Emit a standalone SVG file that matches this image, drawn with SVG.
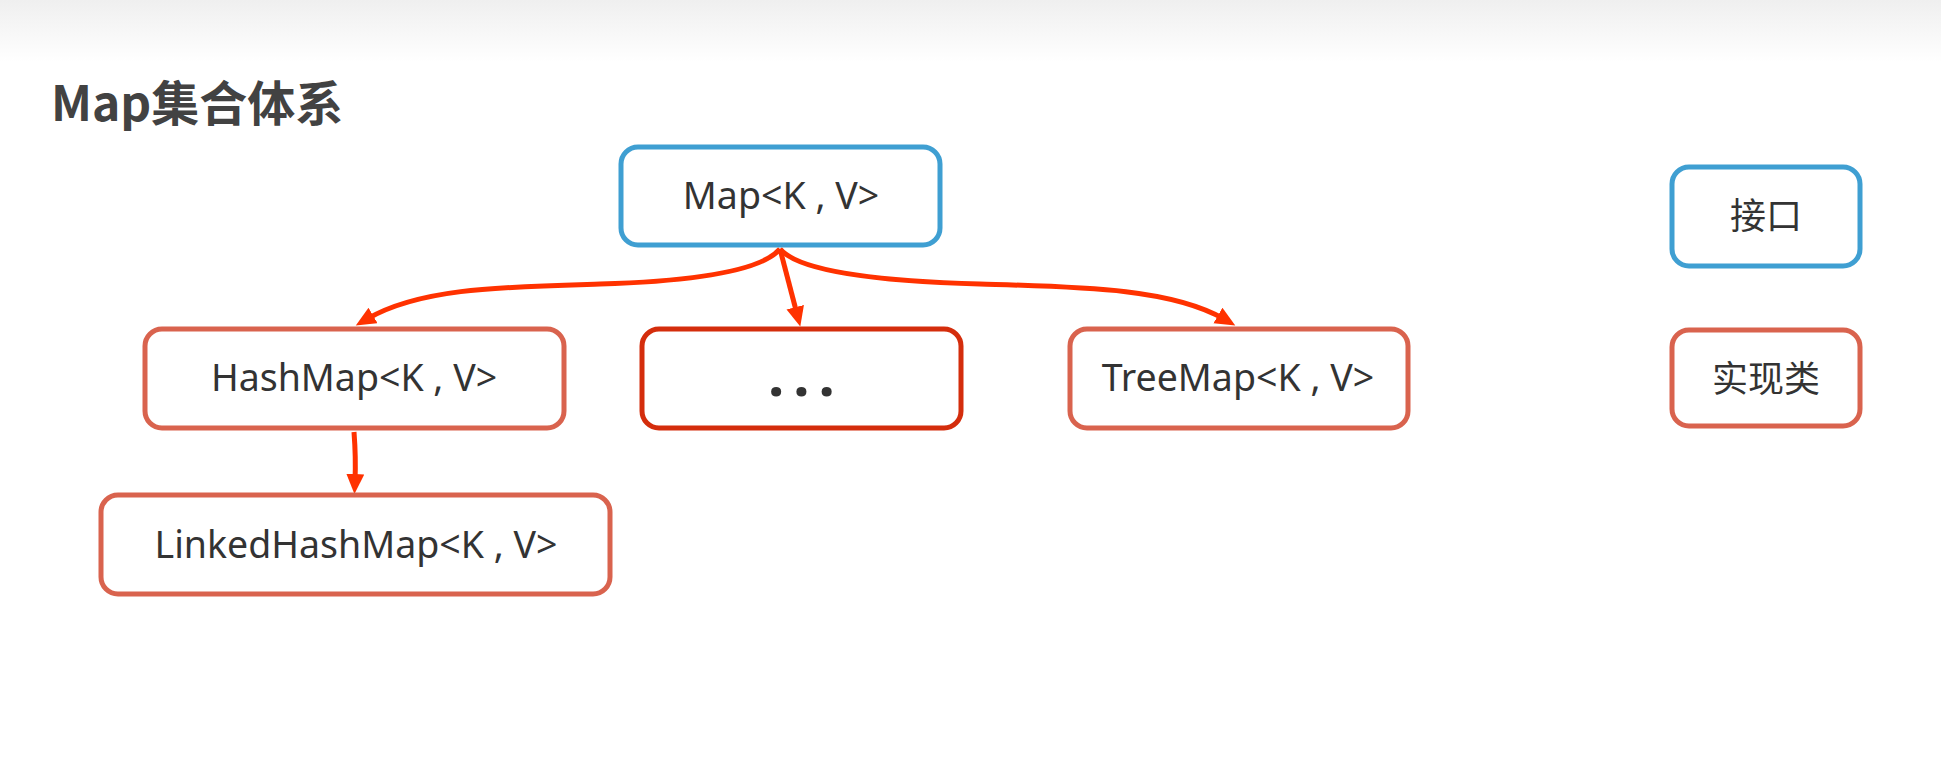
<svg xmlns="http://www.w3.org/2000/svg" width="1941" height="763" viewBox="0 0 1941 763">
  <defs>
    <linearGradient id="topBand" x1="0" y1="0" x2="0" y2="1">
      <stop offset="0" stop-color="#efefef"/>
      <stop offset="1" stop-color="#ffffff"/>
    </linearGradient>
    <marker id="arrowHead" markerUnits="userSpaceOnUse" markerWidth="22" markerHeight="20" refX="7" refY="9" orient="auto">
      <path d="M0,0 L20,9 L0,18 z" fill="#ff3200"/>
    </marker>
    <style>
      .box { fill: #ffffff; stroke-width: 5; }
      .iface { stroke: #3f9fd2; }
      .impl { stroke: #d9634e; }
      .implDark { stroke: #d42d0c; }
      .label { font-family: "Noto Sans", "Noto Sans CJK SC", sans-serif; font-size: 37.5px; fill: #333333; text-anchor: middle; }
      .cjk { font-family: "Noto Sans CJK SC", sans-serif; font-size: 36px; fill: #333333; text-anchor: middle; }
      .title { font-family: "Noto Sans CJK SC", sans-serif; font-size: 48px; font-weight: bold; fill: #424242; }
      .link { fill: none; stroke: #ff3200; stroke-width: 5; marker-end: url(#arrowHead); }
    </style>
  </defs>

  <rect x="0" y="0" width="1941" height="763" fill="#ffffff"/>
  <rect x="0" y="0" width="1941" height="62" fill="url(#topBand)"/>

  <text class="title" x="51" y="121">Map集合体系</text>

  <g id="connectors">
    <path class="link" d="M780,249 C762,270 700,281 600,284 C500,287 420,288 367,319"/>
    <path class="link" d="M780,249 L797,314"/>
    <path class="link" d="M780,249 C798,270 870,281 980,284 C1080,287 1170,288 1224,319"/>
    <path class="link" d="M354,432 Q356,458 355,481"/>
  </g>

  <g id="node-map">
    <rect class="box iface" x="621" y="147" width="319" height="98" rx="17"/>
    <text class="label" x="781" y="209">Map&lt;K , V&gt;</text>
  </g>

  <g id="node-hashmap">
    <rect class="box impl" x="145" y="329" width="419" height="99" rx="17"/>
    <text class="label" x="354" y="391">HashMap&lt;K , V&gt;</text>
  </g>

  <g id="node-more">
    <rect class="box implDark" x="642" y="329" width="319" height="99" rx="17"/>
    <text class="label" x="801" y="396" style="font-size:58px;font-weight:bold;letter-spacing:9px;text-anchor:start" dx="-33">...</text>
  </g>

  <g id="node-treemap">
    <rect class="box impl" x="1070" y="329" width="338" height="99" rx="17"/>
    <text class="label" x="1238" y="391">TreeMap&lt;K , V&gt;</text>
  </g>

  <g id="node-linkedhashmap">
    <rect class="box impl" x="101" y="495" width="509" height="99" rx="17"/>
    <text class="label" x="356" y="558">LinkedHashMap&lt;K , V&gt;</text>
  </g>

  <g id="legend-interface">
    <rect class="box iface" x="1672" y="167" width="188" height="99" rx="17"/>
    <text class="cjk" x="1766" y="229">接口</text>
  </g>

  <g id="legend-class">
    <rect class="box impl" x="1672" y="330" width="188" height="96" rx="17"/>
    <text class="cjk" x="1766" y="392">实现类</text>
  </g>
</svg>
